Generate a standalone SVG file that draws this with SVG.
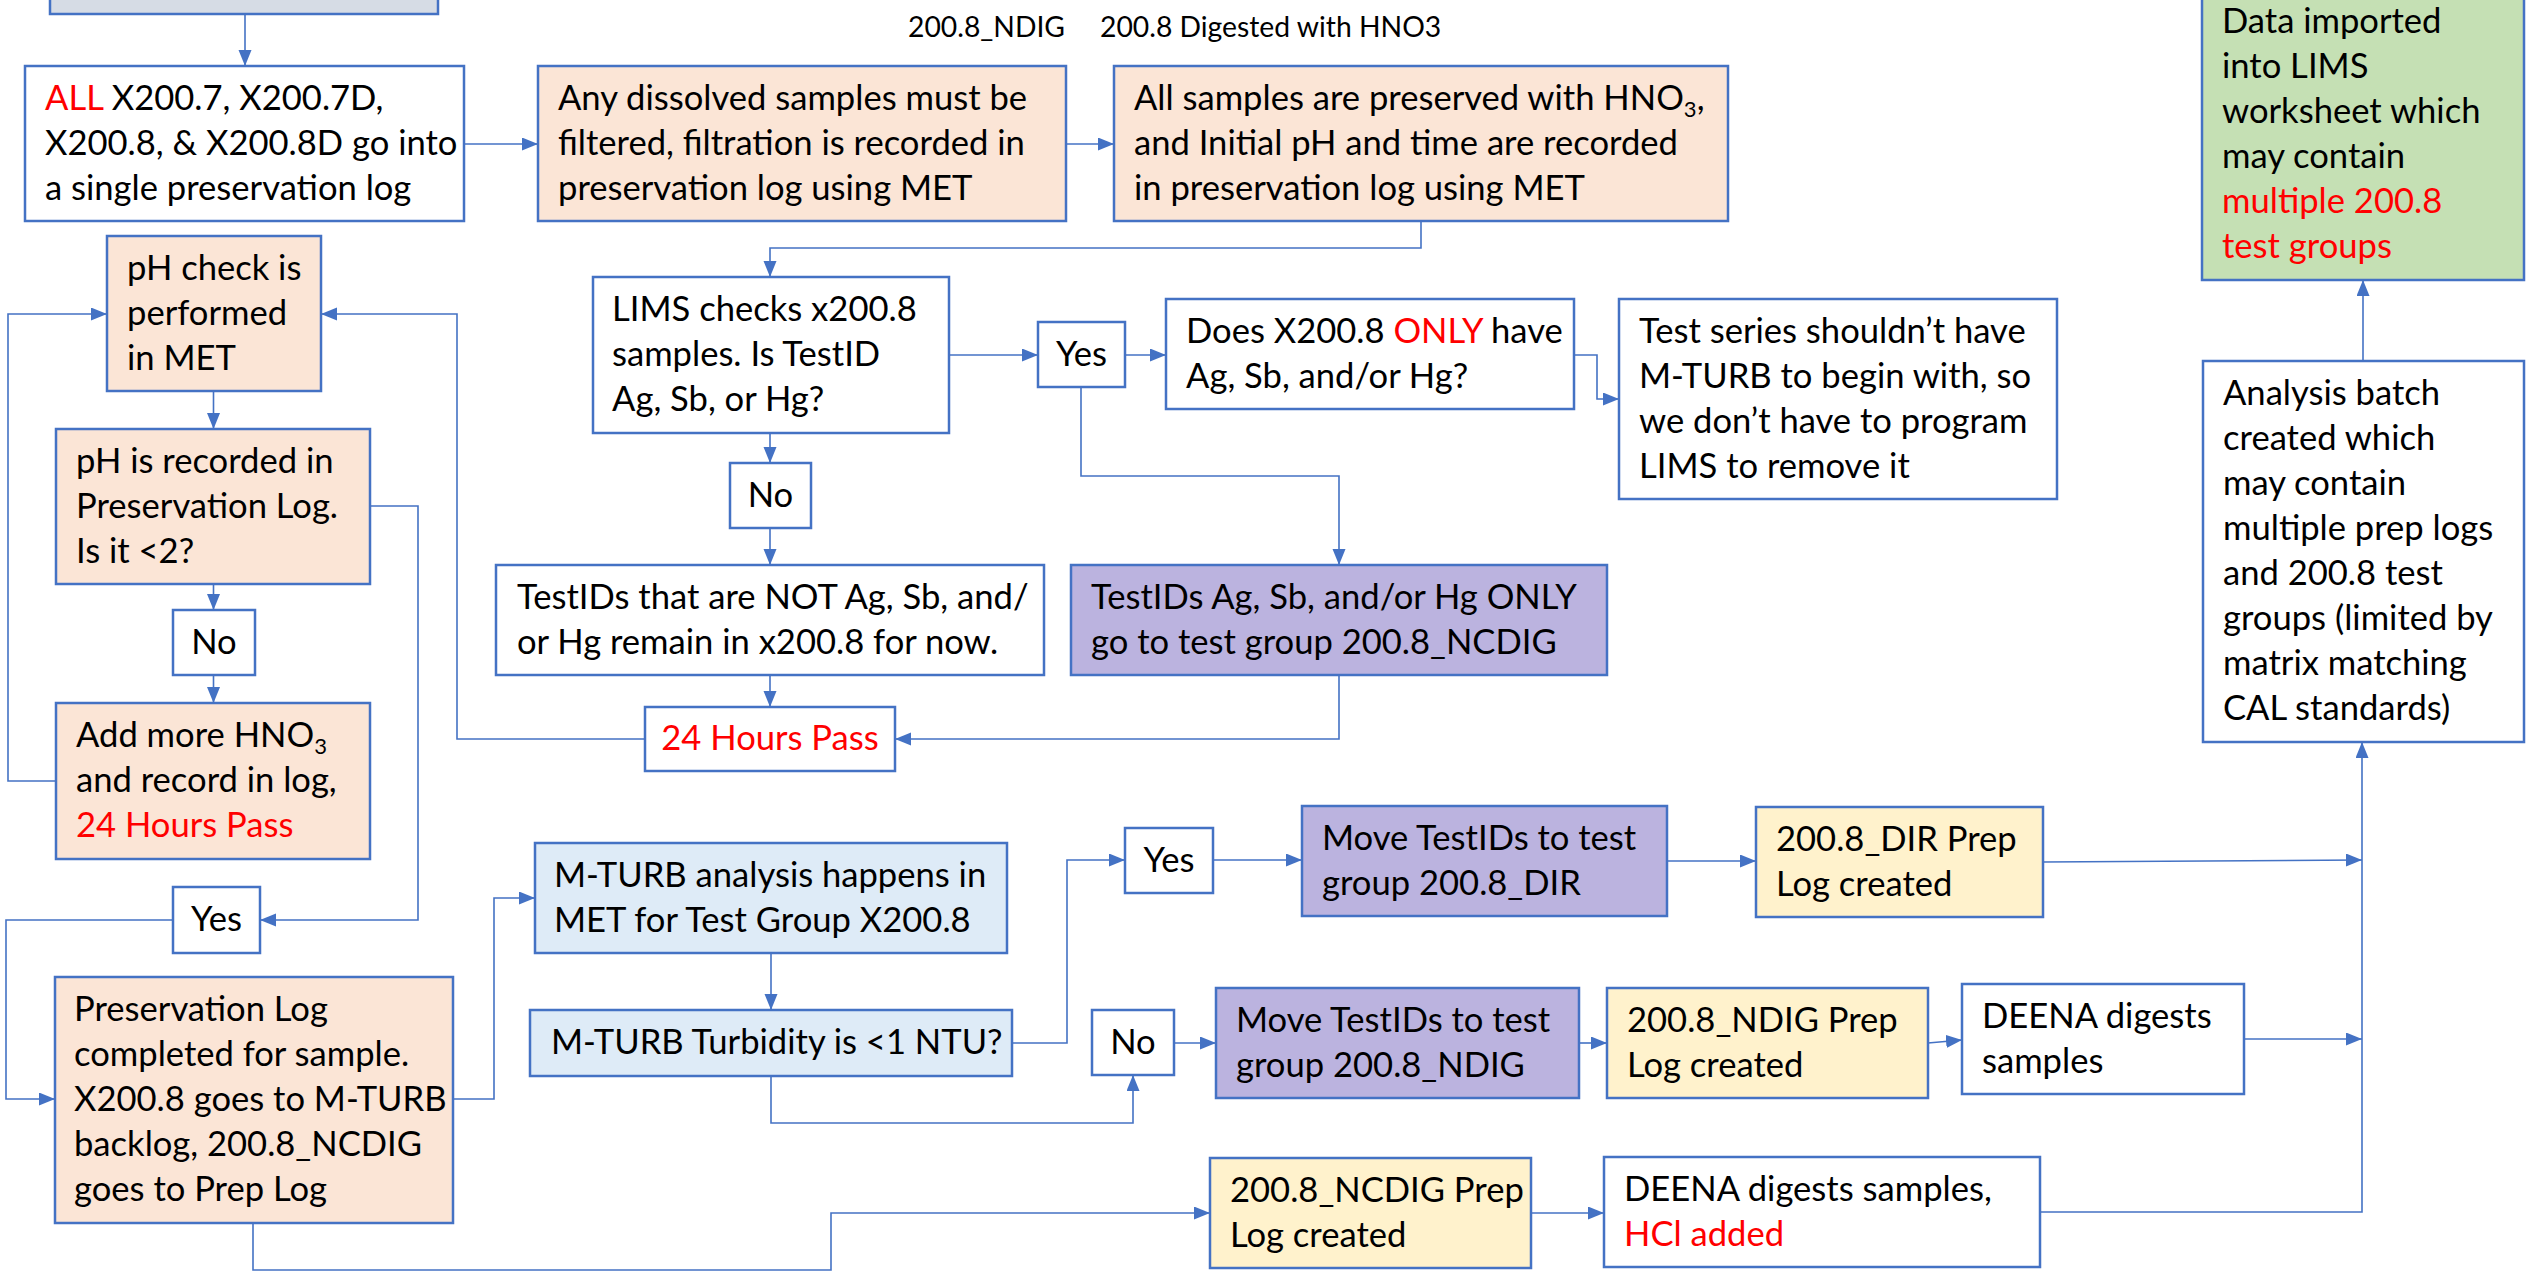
<svg xmlns="http://www.w3.org/2000/svg" width="2535" height="1275" viewBox="0 0 2535 1275">
<defs>
<marker id="ah" markerUnits="userSpaceOnUse" markerWidth="17" markerHeight="14" refX="16" refY="6.5" orient="auto">
<path d="M0,0 L16,6.5 L0,13 z" fill="#4472C4"/>
</marker>
<style>
.b{stroke:#4472C4;stroke-width:2.5}
.w{fill:#FFFFFF}.pe{fill:#FBE5D6}.lb{fill:#DEEBF7}.pu{fill:#BBB3DF}.ye{fill:#FFF2CC}.gr{fill:#C5E0B4}.gb{fill:#D6DCE5}
text{font-family:Lato,"Open Sans","Liberation Sans",sans-serif;font-size:34.6px;fill:#000}
.c{text-anchor:middle}
.r{fill:#FF0000}
.t{font-size:28.3px}
#connectors path{fill:none;stroke:#4472C4;stroke-width:1.6;marker-end:url(#ah)}
</style>
</defs>
<rect width="2535" height="1275" fill="#FFFFFF"/>
<text class="t" x="908" y="37">200.8_NDIG</text>
<text class="t" x="1100" y="37">200.8 Digested with HNO3</text>

<g id="connectors">
<path d="M245,14 V66"/>
<path d="M464,144 H538"/>
<path d="M1066,144 H1114"/>
<path d="M1421,221 V248 H770 V277"/>
<path d="M949,355 H1038"/>
<path d="M1125,355 H1166"/>
<path d="M1574,355 H1597 V399 H1619"/>
<path d="M770,433 V463"/>
<path d="M770,528 V565"/>
<path d="M1081,387 V476 H1339 V565"/>
<path d="M770,675 V707"/>
<path d="M1339,675 V739 H895"/>
<path d="M645,739 H457 V314 H321"/>
<path d="M56,781 H8 V314 H107"/>
<path d="M213.5,391 V429"/>
<path d="M213.5,584 V610"/>
<path d="M213.5,675 V703"/>
<path d="M370,506 H418 V920 H260"/>
<path d="M173,920 H6 V1099 H55"/>
<path d="M453,1099 H494 V898 H535"/>
<path d="M771,953 V1010"/>
<path d="M1012,1043 H1067 V860 H1125"/>
<path d="M771,1076 V1123 H1133 V1075"/>
<path d="M1213,860 H1302"/>
<path d="M1667,861 H1756"/>
<path d="M2043,862 L2362,860"/>
<path d="M1174,1043 H1216"/>
<path d="M1579,1043 H1607"/>
<path d="M1928,1043 L1962,1040"/>
<path d="M2244,1039 H2362"/>
<path d="M253,1223 V1270 H831 V1213 H1210"/>
<path d="M1531,1213 H1604"/>
<path d="M2040,1212 H2362 V742"/>
<path d="M2363,361 V280"/>
</g>

<g id="n-top"><rect class="b gb" x="50" y="-20" width="388" height="34"/></g>

<g id="n-all"><rect class="b w" x="25" y="66" width="439" height="155"/>
<text x="45" y="110"><tspan class="r">ALL</tspan> X200.7, X200.7D,</text>
<text x="45" y="155">X200.8, &amp; X200.8D go into</text>
<text x="45" y="200">a single preservation log</text></g>

<g id="n-dissolved"><rect class="b pe" x="538" y="66" width="528" height="155"/>
<text x="558" y="110">Any dissolved samples must be</text>
<text x="558" y="155">filtered, filtration is recorded in</text>
<text x="558" y="200">preservation log using MET</text></g>

<g id="n-preserved"><rect class="b pe" x="1114" y="66" width="614" height="155"/>
<text x="1134" y="110">All samples are preserved with HNO<tspan font-size="22" dy="7">3</tspan><tspan dy="-7">,</tspan></text>
<text x="1134" y="155">and Initial pH and time are recorded</text>
<text x="1134" y="200">in preservation log using MET</text></g>

<g id="n-lims"><rect class="b w" x="593" y="277" width="356" height="156"/>
<text x="612" y="321">LIMS checks x200.8</text>
<text x="612" y="366">samples. Is TestID</text>
<text x="612" y="411">Ag, Sb, or Hg?</text></g>

<g id="n-yes1"><rect class="b w" x="1038" y="322" width="87" height="65"/>
<text class="c" x="1081.5" y="366">Yes</text></g>

<g id="n-does"><rect class="b w" x="1166" y="299" width="408" height="110"/>
<text x="1186" y="342.5">Does X200.8 <tspan class="r">ONLY</tspan> have</text>
<text x="1186" y="387.5">Ag, Sb, and/or Hg?</text></g>

<g id="n-testseries"><rect class="b w" x="1619" y="299" width="438" height="200"/>
<text x="1639" y="342.5">Test series shouldn’t have</text>
<text x="1639" y="387.5">M-TURB to begin with, so</text>
<text x="1639" y="432.5">we don’t have to program</text>
<text x="1639" y="477.5">LIMS to remove it</text></g>

<g id="n-no1"><rect class="b w" x="730" y="463" width="81" height="65"/>
<text class="c" x="770.5" y="507">No</text></g>

<g id="n-not"><rect class="b w" x="496" y="565" width="548" height="110"/>
<text x="517" y="608.5">TestIDs that are NOT Ag, Sb, and/</text>
<text x="517" y="653.5">or Hg remain in x200.8 for now.</text></g>

<g id="n-ncdig"><rect class="b pu" x="1071" y="565" width="536" height="110"/>
<text x="1091" y="608.5">TestIDs Ag, Sb, and/or Hg ONLY</text>
<text x="1091" y="653.5">go to test group 200.8_NCDIG</text></g>

<g id="n-24h"><rect class="b w" x="645" y="707" width="250" height="64"/>
<text class="c r" x="770" y="750">24 Hours Pass</text></g>

<g id="n-phcheck"><rect class="b pe" x="107" y="236" width="214" height="155"/>
<text x="127" y="279.5">pH check is</text>
<text x="127" y="324.5">performed</text>
<text x="127" y="369.5">in MET</text></g>

<g id="n-phrec"><rect class="b pe" x="56" y="429" width="314" height="155"/>
<text x="76" y="472.5">pH is recorded in</text>
<text x="76" y="517.5">Preservation Log.</text>
<text x="76" y="562.5">Is it &lt;2?</text></g>

<g id="n-no2"><rect class="b w" x="173" y="610" width="82" height="65"/>
<text class="c" x="214" y="654">No</text></g>

<g id="n-add"><rect class="b pe" x="56" y="703" width="314" height="156"/>
<text x="76" y="747">Add more HNO<tspan font-size="22" dy="7">3</tspan></text>
<text x="76" y="792">and record in log,</text>
<text class="r" x="76" y="837">24 Hours Pass</text></g>

<g id="n-yes2"><rect class="b w" x="173" y="887" width="87" height="66"/>
<text class="c" x="216.5" y="931">Yes</text></g>

<g id="n-preslog"><rect class="b pe" x="55" y="977" width="398" height="246"/>
<text x="74" y="1021">Preservation Log</text>
<text x="74" y="1066">completed for sample.</text>
<text x="74" y="1111">X200.8 goes to M-TURB</text>
<text x="74" y="1156">backlog, 200.8_NCDIG</text>
<text x="74" y="1201">goes to Prep Log</text></g>

<g id="n-mturb"><rect class="b lb" x="535" y="843" width="472" height="110"/>
<text x="554" y="886.5">M-TURB analysis happens in</text>
<text x="554" y="931.5">MET for Test Group X200.8</text></g>

<g id="n-turb"><rect class="b lb" x="530" y="1010" width="482" height="66"/>
<text x="551" y="1054">M-TURB Turbidity is &lt;1 NTU?</text></g>

<g id="n-yes3"><rect class="b w" x="1125" y="828" width="88" height="65"/>
<text class="c" x="1169" y="872">Yes</text></g>

<g id="n-no3"><rect class="b w" x="1092" y="1010" width="82" height="65"/>
<text class="c" x="1133" y="1054">No</text></g>

<g id="n-movedir"><rect class="b pu" x="1302" y="806" width="365" height="110"/>
<text x="1322" y="849.5">Move TestIDs to test</text>
<text x="1322" y="894.5">group 200.8_DIR</text></g>

<g id="n-dirprep"><rect class="b ye" x="1756" y="807" width="287" height="110"/>
<text x="1776" y="850.5">200.8_DIR Prep</text>
<text x="1776" y="895.5">Log created</text></g>

<g id="n-movendig"><rect class="b pu" x="1216" y="988" width="363" height="110"/>
<text x="1236" y="1031.5">Move TestIDs to test</text>
<text x="1236" y="1076.5">group 200.8_NDIG</text></g>

<g id="n-ndigprep"><rect class="b ye" x="1607" y="988" width="321" height="110"/>
<text x="1627" y="1031.5">200.8_NDIG Prep</text>
<text x="1627" y="1076.5">Log created</text></g>

<g id="n-deena1"><rect class="b w" x="1962" y="984" width="282" height="110"/>
<text x="1982" y="1027.5">DEENA digests</text>
<text x="1982" y="1072.5">samples</text></g>

<g id="n-ncdigprep"><rect class="b ye" x="1210" y="1158" width="321" height="110"/>
<text x="1230" y="1201.5">200.8_NCDIG Prep</text>
<text x="1230" y="1246.5">Log created</text></g>

<g id="n-deena2"><rect class="b w" x="1604" y="1157" width="436" height="110"/>
<text x="1624" y="1200.5">DEENA digests samples,</text>
<text class="r" x="1624" y="1245.5">HCl added</text></g>

<g id="n-analysis"><rect class="b w" x="2203" y="361" width="321" height="381"/>
<text x="2223" y="405">Analysis batch</text>
<text x="2223" y="450">created which</text>
<text x="2223" y="495">may contain</text>
<text x="2223" y="540">multiple prep logs</text>
<text x="2223" y="585">and 200.8 test</text>
<text x="2223" y="630">groups (limited by</text>
<text x="2223" y="675">matrix matching</text>
<text x="2223" y="720">CAL standards)</text></g>

<g id="n-data"><rect class="b gr" x="2202" y="-11" width="322" height="291"/>
<text x="2222" y="33">Data imported</text>
<text x="2222" y="78">into LIMS</text>
<text x="2222" y="123">worksheet which</text>
<text x="2222" y="168">may contain</text>
<text class="r" x="2222" y="213">multiple 200.8</text>
<text class="r" x="2222" y="258">test groups</text></g>
</svg>
